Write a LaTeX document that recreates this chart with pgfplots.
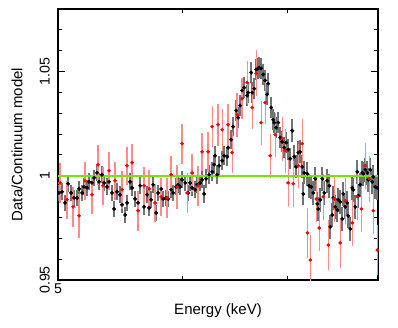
\documentclass[border=0pt]{standalone}
\usepackage{fontspec}
\setmainfont{Liberation Sans}
\usepackage{pgfplots}
\pgfplotsset{compat=1.18}
\definecolor{fitgreen}{rgb}{0.47,0.9,0.0}

\begin{document}
\begin{tikzpicture}[x=0.6pt,y=0.6pt]
\path[use as bounding box] (-58,-47) rectangle (340,280);
\begin{axis}[
    at={(0,0)}, anchor=south west, scale only axis,
    width=192pt, height=162.6pt,
    xmode=log, xmin=5, xmax=8, ymin=0.95, ymax=1.08,
    xtick={5}, xticklabels={5}, minor xtick={6,7},
    ytick={0.95,1,1.05}, yticklabels={0.95,1,1.05},
    minor ytick={0.96,0.97,0.98,0.99,1.01,1.02,1.03,1.04,1.06,1.07},
    tick align=inside, major tick length=4.2pt, minor tick length=2.4pt,
    axis line style={line width=0.8pt}, tick style={black, line width=0.6pt},
    /pgf/number format/assume math mode=true,
    tick label style={font=\fontsize{8.5}{10}\selectfont},
    yticklabel style={rotate=90, anchor=south, inner sep=0pt},
    yticklabel shift=4.8pt,
    xticklabel style={inner sep=0pt}, xticklabel shift=1.8pt,
    label style={font=\fontsize{9}{11}\selectfont},
    xlabel={Energy (keV)}, ylabel={Data/Continuum model},
    xlabel style={at={(axis description cs:0.5,-0.129)}, anchor=base},
    ylabel style={at={(axis description cs:-0.128,0.5)}, anchor=center},
]
% first spectrum
\addplot[black, only marks, mark=*, mark size=0.95pt,
    error bars/.cd, x dir=both, x fixed=0.009, y dir=both, y explicit,
    error mark=none, error bar style={black!55, line width=1.1pt}]
    table[x=e, y=r, y error=d] {
e r d
5.007 0.9918 0.0040
5.030 0.9923 0.0040
5.052 0.9870 0.0040
5.074 0.9962 0.0040
5.097 0.9918 0.0040
5.119 0.9894 0.0040
5.142 0.9894 0.0040
5.157 0.9937 0.0040
5.180 0.9918 0.0040
5.195 0.9947 0.0040
5.218 0.9942 0.0040
5.233 0.9971 0.0040
5.256 0.9966 0.0040
5.272 0.9990 0.0040
5.295 1.0014 0.0040
5.311 0.9971 0.0040
5.334 1.0005 0.0040
5.350 0.9966 0.0040
5.374 0.9947 0.0040
5.389 0.9971 0.0040
5.413 0.9918 0.0040
5.429 0.9841 0.0040
5.453 0.9923 0.0040
5.477 0.9909 0.0040
5.493 0.9861 0.0040
5.518 0.9812 0.0040
5.534 0.9870 0.0040
5.558 0.9971 0.0040
5.575 0.9942 0.0040
5.599 0.9889 0.0040
5.624 0.9870 0.0040
5.641 0.9952 0.0040
5.674 0.9851 0.0040
5.699 0.9909 0.0040
5.716 0.9846 0.0040
5.733 0.9885 0.0040
5.750 0.9957 0.0040
5.775 0.9822 0.0040
5.792 0.9918 0.0040
5.818 0.9937 0.0040
5.835 0.9889 0.0040
5.860 0.9894 0.0040
5.878 0.9889 0.0040
5.904 0.9933 0.0040
5.921 0.9918 0.0040
5.947 0.9947 0.0040
5.965 0.9957 0.0040
5.982 0.9947 0.0040
6.000 0.9981 0.0040
6.027 0.9966 0.0040
6.053 0.9918 0.0040
6.071 0.9966 0.0040
6.089 0.9942 0.0040
6.116 0.9933 0.0040
6.134 0.9957 0.0040
6.161 0.9966 0.0040
6.179 0.9981 0.0040
6.197 0.9913 0.0045
6.216 0.9986 0.0045
6.243 1.0005 0.0045
6.271 1.0019 0.0045
6.289 1.0053 0.0045
6.298 1.0096 0.0045
6.317 1.0005 0.0045
6.335 1.0048 0.0045
6.364 1.0072 0.0045
6.382 1.0096 0.0045
6.411 1.0091 0.0045
6.420 1.0135 0.0045
6.448 1.0173 0.0045
6.467 1.0236 0.0045
6.496 1.0313 0.0050
6.515 1.0279 0.0050
6.534 1.0337 0.0050
6.553 1.0409 0.0050
6.573 1.0423 0.0050
6.602 1.0385 0.0050
6.611 1.0399 0.0050
6.641 1.0495 0.0050
6.651 1.0399 0.0050
6.670 1.0418 0.0050
6.690 1.0510 0.0050
6.709 1.0515 0.0050
6.719 1.0519 0.0050
6.739 1.0515 0.0050
6.759 1.0486 0.0050
6.779 1.0457 0.0050
6.799 1.0390 0.0050
6.809 1.0442 0.0050
6.839 1.0327 0.0050
6.859 1.0269 0.0050
6.869 1.0255 0.0050
6.889 1.0231 0.0050
6.910 1.0255 0.0050
6.930 1.0183 0.0050
6.951 1.0163 0.0050
6.971 1.0135 0.0050
6.992 1.0159 0.0050
7.012 1.0125 0.0050
7.033 1.0082 0.0050
7.054 1.0216 0.0055
7.074 1.0091 0.0055
7.095 1.0043 0.0055
7.116 1.0111 0.0055
7.137 1.0115 0.0055
7.158 1.0043 0.0055
7.169 0.9913 0.0055
7.179 1.0014 0.0055
7.211 1.0010 0.0058
7.232 0.9952 0.0058
7.253 0.9947 0.0058
7.275 0.9918 0.0058
7.296 0.9986 0.0058
7.318 0.9865 0.0058
7.328 0.9841 0.0058
7.350 0.9885 0.0058
7.372 0.9986 0.0058
7.393 0.9918 0.0058
7.426 0.9976 0.0058
7.448 0.9952 0.0058
7.459 0.9755 0.0058
7.481 0.9812 0.0058
7.492 0.9894 0.0058
7.514 0.9851 0.0058
7.536 0.9836 0.0058
7.547 0.9885 0.0058
7.569 0.9875 0.0058
7.592 0.9793 0.0058
7.603 0.9913 0.0058
7.625 0.9851 0.0058
7.648 0.9870 0.0058
7.659 0.9808 0.0058
7.681 0.9745 0.0058
7.704 0.9942 0.0058
7.715 0.9933 0.0058
7.738 0.9851 0.0058
7.761 1.0019 0.0058
7.772 0.9904 0.0058
7.795 0.9957 0.0058
7.818 1.0014 0.0058
7.830 1.0010 0.0058
7.853 1.0029 0.0058
7.876 1.0014 0.0058
7.887 0.9981 0.0058
7.911 1.0029 0.0058
7.934 0.9971 0.0058
7.946 0.9995 0.0058
7.969 0.9947 0.0058
7.992 0.9942 0.0058
};
% second spectrum
\addplot[red, only marks, mark=*, mark size=0.85pt,
    error bars/.cd, x dir=both, x fixed=0.018, y dir=both, y explicit,
    error mark=none, error bar style={red!45, line width=0.8pt}]
    table[x=e, y=r, y error=d] {
e r d
5.015 0.9966 0.0096
5.067 0.9885 0.0090
5.112 0.9851 0.0096
5.157 0.9808 0.0106
5.203 0.9976 0.0090
5.256 0.9909 0.0090
5.303 1.0053 0.0096
5.342 0.9952 0.0090
5.389 1.0024 0.0090
5.437 0.9976 0.0090
5.493 0.9933 0.0090
5.534 1.0048 0.0090
5.575 1.0063 0.0090
5.624 0.9832 0.0096
5.674 0.9952 0.0090
5.716 0.9937 0.0090
5.767 0.9870 0.0090
5.818 0.9899 0.0090
5.869 0.9894 0.0096
5.904 1.0005 0.0090
5.956 0.9947 0.0106
6.000 1.0154 0.0096
6.045 0.9918 0.0096
6.089 1.0014 0.0090
6.143 0.9952 0.0096
6.179 1.0115 0.0090
6.234 1.0115 0.0096
6.271 1.0236 0.0100
6.326 1.0245 0.0100
6.364 1.0221 0.0100
6.420 1.0245 0.0100
6.458 1.0111 0.0100
6.505 1.0293 0.0105
6.553 1.0370 0.0100
6.602 1.0447 0.0105
6.651 1.0327 0.0105
6.690 1.0491 0.0110
6.739 1.0255 0.0105
6.779 1.0351 0.0105
6.829 1.0096 0.0105
6.879 1.0197 0.0105
6.951 1.0178 0.0105
6.982 1.0120 0.0105
7.012 0.9966 0.0110
7.064 0.9962 0.0110
7.116 1.0048 0.0105
7.158 1.0154 0.0120
7.211 0.9726 0.0120
7.243 0.9596 0.0120
7.307 0.9889 0.0110
7.339 0.9750 0.0110
7.382 0.9899 0.0110
7.437 0.9668 0.0120
7.503 0.9889 0.0110
7.569 0.9678 0.0120
7.625 0.9880 0.0110
7.704 0.9774 0.0110
7.761 0.9899 0.0110
7.807 0.9841 0.0110
7.853 1.0048 0.0110
7.899 0.9986 0.0110
7.946 0.9832 0.0110
7.992 0.9644 0.0120
};
% continuum level
\addplot[draw=fitgreen, line width=1pt] coordinates {(5,1) (8,1)};
\end{axis}
\end{tikzpicture}
\end{document}
